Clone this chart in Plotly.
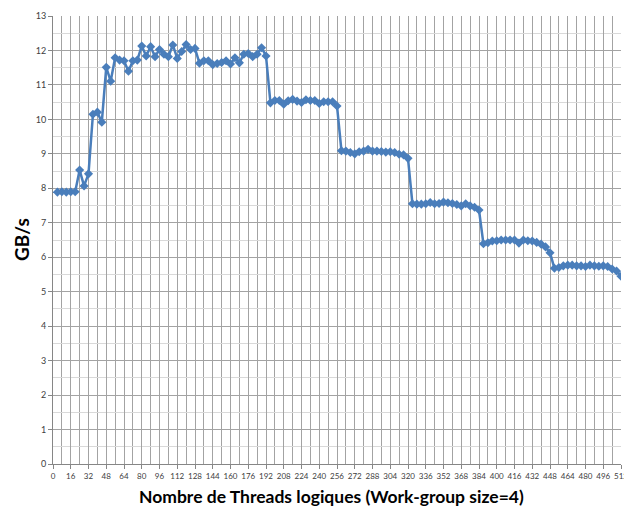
import plotly.graph_objects as go

# Logical thread counts (work-group size = 4) and measured bandwidth in GB/s
threads = list(range(4, 513, 4))
bandwidth = [
    7.89, 7.90, 7.89, 7.90, 7.90, 8.53, 8.07, 8.42,
    10.15, 10.21, 9.92, 11.51, 11.11, 11.79, 11.72, 11.70,
    11.40, 11.70, 11.72, 12.13, 11.84, 12.11, 11.82, 12.03,
    11.89, 11.82, 12.16, 11.77, 11.97, 12.17, 12.03, 12.06,
    11.63, 11.70, 11.70, 11.59, 11.62, 11.65, 11.70, 11.61,
    11.79, 11.64, 11.89, 11.91, 11.82, 11.89, 12.08, 11.84,
    10.48, 10.55, 10.55, 10.44, 10.54, 10.58, 10.53, 10.49,
    10.57, 10.55, 10.55, 10.46, 10.51, 10.51, 10.51, 10.39,
    9.09, 9.08, 9.04, 9.00, 9.06, 9.08, 9.13, 9.08,
    9.08, 9.07, 9.05, 9.06, 9.04, 8.99, 8.97, 8.87,
    7.55, 7.54, 7.54, 7.55, 7.59, 7.55, 7.56, 7.60,
    7.58, 7.56, 7.53, 7.49, 7.55, 7.49, 7.45, 7.37,
    6.39, 6.42, 6.47, 6.48, 6.50, 6.50, 6.50, 6.50,
    6.41, 6.50, 6.48, 6.47, 6.43, 6.38, 6.30, 6.13,
    5.68, 5.70, 5.75, 5.77, 5.77, 5.75, 5.75, 5.73,
    5.77, 5.75, 5.74, 5.75, 5.73, 5.66, 5.60, 5.45,
]
x_ticks = list(range(0, 513, 16))
y_ticks = list(range(0, 14))

x_title = "Nombre de Threads logiques (Work-group size=4)"
y_title = "GB/s"

blue = "#4a7ebb"
major_grid = "#a3a3a3"
minor_grid = "#d9d9d9"
axis_col = "#868686"
font_family = "Lato, Open Sans, sans-serif"

fig = go.Figure()
fig.add_trace(go.Scatter(
    x=threads, y=bandwidth, mode="lines+markers",
    line=dict(color=blue, width=2.5),
    marker=dict(symbol="diamond", size=7, color=blue),
    showlegend=False, hoverinfo="x+y",
))

fig.update_layout(
    width=624, height=506,
    margin=dict(l=53, r=3, t=16, b=42),
    paper_bgcolor="white", plot_bgcolor="white",
    font=dict(family=font_family, color="#404040"),
    xaxis=dict(
        range=[0, 512], tickmode="array", tickvals=x_ticks,
        ticktext=[str(v) for v in x_ticks],
        showgrid=True, gridcolor=major_grid, gridwidth=1,
        minor=dict(dtick=8, tick0=0, showgrid=True, gridcolor=major_grid, gridwidth=1),
        showline=True, linecolor=axis_col, linewidth=1, mirror=False,
        ticks="outside", ticklen=4, tickcolor=axis_col,
        tickfont=dict(size=8, color="#404040", family=font_family),
        tickangle=0, zeroline=False, automargin=False,
        ticklabeloverflow="allow",
    ),
    yaxis=dict(
        range=[0, 13], tickmode="array", tickvals=y_ticks,
        showgrid=True, gridcolor=major_grid, gridwidth=1,
        minor=dict(dtick=0.5, tick0=0, showgrid=True, gridcolor=minor_grid, gridwidth=1),
        showline=True, linecolor=axis_col, linewidth=1,
        ticks="outside", ticklen=4, tickcolor=axis_col,
        tickfont=dict(size=9, color="#404040", family=font_family),
        zeroline=False, automargin=False,
    ),
    annotations=[
        dict(text=f"<b>{x_title}</b>", xref="paper", yref="paper",
             x=(331 - 53) / 568, y=-(496 - 464) / 448, xanchor="center", yanchor="middle",
             showarrow=False, font=dict(size=17.5, color="black", family=font_family)),
        dict(text=f"<b>{y_title}</b>", xref="paper", yref="paper",
             x=-(53 - 21) / 568, y=(464 - 240) / 448, xanchor="center", yanchor="middle",
             textangle=-90, showarrow=False,
             font=dict(size=19, color="black", family=font_family)),
    ],
)

fig.write_html("out.html")
